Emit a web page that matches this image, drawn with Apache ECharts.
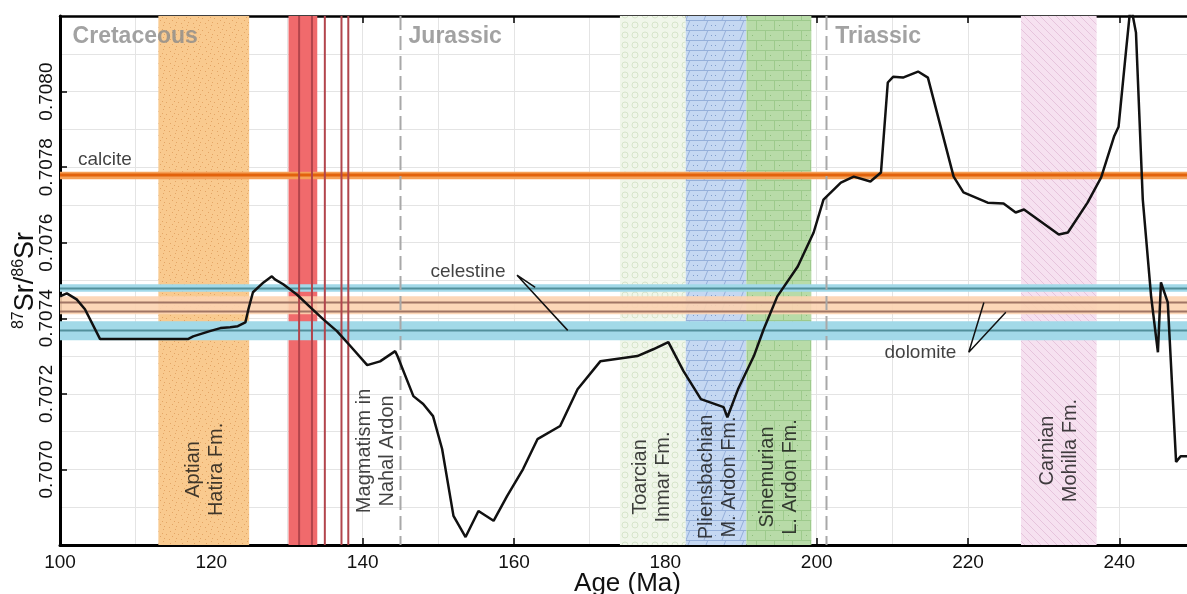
<!DOCTYPE html>
<html>
<head>
<meta charset="utf-8">
<title>87Sr/86Sr versus age</title>
<script src="https://cdn.jsdelivr.net/npm/echarts@6/dist/echarts.min.js"></script>
<style>
  html, body { margin: 0; padding: 0; background: #fff; }
  #chart { width: 1187px; height: 594px; }
</style>
</head>
<body>
<div id="chart"></div>
<script>
// seawater curve: age (Ma) and 87Sr/86Sr
var ages = [100.0, 100.9, 102.2, 103.3, 105.3, 116.9, 117.6, 119.8, 121.2, 122.5, 123.5, 124.5, 124.9, 125.5,
  126.9, 128.0, 128.4, 129.5, 131.3, 133.1, 134.8, 136.6, 138.4, 140.6, 142.3, 144.3, 144.6, 146.7, 148.0,
  149.3, 150.5, 152.0, 153.6, 155.3, 157.3, 159.1, 161.2, 163.1, 166.1, 168.4, 171.4, 176.3, 178.4, 180.4,
  182.4, 184.7, 187.7, 188.2, 189.6, 191.7, 193.0, 194.8, 197.5, 199.6, 200.9, 203.2, 204.9, 207.1, 208.5,
  209.4, 210.1, 211.4, 213.4, 214.7, 218.1, 219.4, 222.6, 224.7, 226.3, 227.4, 232.0, 233.2, 235.8, 237.6,
  239.3, 239.9, 240.9, 241.5, 242.2, 243.1, 244.2, 245.1, 245.5, 246.4, 247.5, 248.1, 249.0];
var ratios = [0.707458, 0.707466, 0.707450, 0.707424, 0.707345, 0.707345, 0.707352, 0.707366, 0.707374, 0.707376,
  0.707379, 0.707389, 0.707424, 0.707469, 0.707495, 0.707511, 0.707503, 0.707490, 0.707463, 0.707429, 0.707397,
  0.707366, 0.707326, 0.707276, 0.707286, 0.707313, 0.707300, 0.707194, 0.707173, 0.707141, 0.707054, 0.706877,
  0.706821, 0.706890, 0.706864, 0.706930, 0.707001, 0.707080, 0.707115, 0.707212, 0.707286, 0.707300, 0.707318,
  0.707337, 0.707260, 0.707186, 0.707165, 0.707138, 0.707212, 0.707300, 0.707371, 0.707458, 0.707537, 0.707627,
  0.707714, 0.707759, 0.707775, 0.707762, 0.707786, 0.708024, 0.708039, 0.708037, 0.708053, 0.708037, 0.707775,
  0.707733, 0.707706, 0.707704, 0.707680, 0.707688, 0.707622, 0.707627, 0.707706, 0.707773, 0.707881, 0.707907,
  0.708111, 0.708230, 0.708156, 0.707714, 0.707458, 0.707310, 0.707495, 0.707442, 0.707020, 0.707035, 0.707035];

// formations (vertical bands)
var stageNames = ['Aptian\nHatira Fm.', 'Toarcian\nInmar Fm.', 'Pliensbachian\nM. Ardon Fm.', 'Sinemurian\nL. Ardon Fm.', 'Carnian\nMohilla Fm.'];
var stageFrom = [113.0, 174.0, 182.7, 190.7, 227.0];
var stageTo = [125.0, 182.7, 190.7, 199.3, 237.0];
var stageLabelX = [119.2, 178.3, 186.9, 195.0, 232.0];
var stageLabelY = [0.70700, 0.70698, 0.70698, 0.70698, 0.70705];

// magmatism in Nahal Ardon
var magmaBand = [130.2, 134.0];
var magmaLines = [131.6, 133.3, 135.0, 137.2, 138.1];
var magmaLabel = ['Magmatism in\nNahal Ardon', 141.7, 0.707049];

// periods
var periodNames = ['Cretaceous', 'Jurassic', 'Triassic'];
var periodX = [101.6, 146.0, 202.4];
var periodY = 0.708145;
var boundaries = [145.0, 201.3];

// mineral ranges [low, high] and centre lines
var calciteRanges = [[0.707768, 0.707788]];
var calciteLines = [0.707779];
var celestineRanges = [[0.707470, 0.707490], [0.707342, 0.707392]];
var celestineLines = [0.707479, 0.707368];
var dolomiteRanges = [[0.707411, 0.707458]];
var dolomiteLines = [0.707442, 0.707418];

// mineral labels and their pointers
var mineralNames = ['calcite', 'celestine', 'dolomite'];
var mineralX = [102.3, 148.9, 208.9];
var mineralY = [0.70782, 0.707522, 0.70731];
var celestinePointer = [[162.8, 0.707482], [160.4, 0.707514], [167.1, 0.707368]];
var dolomitePointer = [[222.1, 0.707442], [220.1, 0.707310], [225.0, 0.707416]];

var FONT = '"Liberation Sans", Arial, sans-serif';

function pattern(w, h, bg, draw) {
  var c = document.createElement('canvas');
  c.width = w; c.height = h;
  var ctx = c.getContext('2d');
  ctx.fillStyle = bg;
  ctx.fillRect(0, 0, w, h);
  draw(ctx);
  return { image: c, repeat: 'repeat' };
}

var fills = [
  // Aptian: sandy dots
  pattern(12, 12, '#f9ca8f', function (ctx) {
    ctx.fillStyle = '#e3a565';
    [[2, 3], [7, 1], [10, 6], [4, 8], [8, 10], [1, 11], [6, 5]].forEach(function (p) {
      ctx.fillRect(p[0], p[1], 1, 1);
    });
  }),
  // Toarcian: open circles
  pattern(10, 10, '#f0f6ea', function (ctx) {
    ctx.strokeStyle = '#d6e5ca';
    ctx.lineWidth = 1;
    ctx.beginPath();
    ctx.arc(5, 5, 3, 0, Math.PI * 2);
    ctx.stroke();
  }),
  // Pliensbachian: slanted bricks
  pattern(18, 10, '#c5d8f2', function (ctx) {
    ctx.strokeStyle = '#95b0da';
    ctx.lineWidth = 1;
    ctx.beginPath();
    ctx.moveTo(0, 0.5); ctx.lineTo(18, 0.5);
    ctx.moveTo(2, 10); ctx.lineTo(6, 0);
    ctx.stroke();
    ctx.fillStyle = '#7f9ccb';
    ctx.fillRect(9, 5, 1, 1);
    ctx.fillRect(13, 5, 1, 1);
  }),
  // Sinemurian: bricks
  pattern(18, 20, '#b8dba8', function (ctx) {
    ctx.strokeStyle = '#9dca8c';
    ctx.lineWidth = 1;
    ctx.beginPath();
    ctx.moveTo(0, 0.5); ctx.lineTo(18, 0.5);
    ctx.moveTo(0, 10.5); ctx.lineTo(18, 10.5);
    ctx.moveTo(0.5, 0); ctx.lineTo(0.5, 10);
    ctx.moveTo(9.5, 10); ctx.lineTo(9.5, 20);
    ctx.stroke();
    ctx.fillStyle = '#8dbd7b';
    ctx.fillRect(5, 5, 1, 1);
    ctx.fillRect(14, 15, 1, 1);
  }),
  // Carnian: diagonal hatch
  pattern(8, 8, '#f6e1f0', function (ctx) {
    ctx.strokeStyle = '#e6c4dc';
    ctx.lineWidth = 1;
    ctx.beginPath();
    ctx.moveTo(-1, -1); ctx.lineTo(9, 9);
    ctx.moveTo(-1, 7); ctx.lineTo(1, 9);
    ctx.moveTo(7, -1); ctx.lineTo(9, 1);
    ctx.stroke();
  })
];

// vertical band over the full plot height
function vBandSeries(from, to, fillFor, z) {
  return {
    type: 'custom', z: z, silent: true, clip: true,
    data: from.map(function (f, i) { return [f, to[i], i]; }),
    renderItem: function (params, api) {
      var cs = params.coordSys;
      var x0 = api.coord([api.value(0), 0.7075])[0];
      var x1 = api.coord([api.value(1), 0.7075])[0];
      return { type: 'rect', shape: { x: x0, y: cs.y, width: x1 - x0, height: cs.height },
        style: { fill: fillFor(api.value(2)) } };
    }
  };
}
// horizontal band over the full plot width
function hBandSeries(ranges, color, opacity, z) {
  return {
    type: 'custom', z: z, silent: true, clip: true,
    data: ranges.map(function (r) { return [150, r[0], r[1]]; }),
    renderItem: function (params, api) {
      var cs = params.coordSys;
      var y0 = api.coord([150, api.value(2)])[1];
      var y1 = api.coord([150, api.value(1)])[1];
      return { type: 'rect', shape: { x: cs.x, y: y0, width: cs.width, height: y1 - y0 },
        style: { fill: color, opacity: opacity } };
    }
  };
}
function hLineSeries(vals, color, width, z) {
  return {
    type: 'custom', z: z, silent: true, clip: true,
    data: vals.map(function (v) { return [150, v]; }),
    renderItem: function (params, api) {
      var cs = params.coordSys;
      var y = api.coord([150, api.value(1)])[1];
      return { type: 'line', shape: { x1: cs.x, y1: y, x2: cs.x + cs.width, y2: y },
        style: { stroke: color, lineWidth: width } };
    }
  };
}
function vLineSeries(vals, color, width, dash, z) {
  return {
    type: 'custom', z: z, silent: true, clip: true,
    data: vals.map(function (v) { return [v, 0.7075]; }),
    renderItem: function (params, api) {
      var cs = params.coordSys;
      var x = api.coord([api.value(0), 0.7075])[0];
      return { type: 'line', shape: { x1: x, y1: cs.y, x2: x, y2: cs.y + cs.height },
        style: { stroke: color, lineWidth: width, lineDash: dash } };
    }
  };
}

var labelData = stageNames.map(function (n, i) {
  return { name: n, value: [stageLabelX[i], stageLabelY[i]] };
});
labelData.push({ name: magmaLabel[0], value: [magmaLabel[1], magmaLabel[2]] });

var chart = echarts.init(document.getElementById('chart'));
var option = {
  animation: false,
  textStyle: { fontFamily: FONT },
  grid: { left: 60, right: -8, top: 16, bottom: 49, outerBoundsMode: 'none' },
  xAxis: [{
    type: 'value', min: 100, max: 250, interval: 20, position: 'bottom',
    name: 'Age (Ma)', nameLocation: 'middle', nameGap: 26, nameMoveOverlap: false,
    nameTextStyle: { fontSize: 26, color: '#111', fontFamily: FONT },
    axisLine: { show: true, onZero: false, lineStyle: { color: '#000', width: 3 } },
    axisTick: { inside: true, length: 7, lineStyle: { color: '#000', width: 1.5 } },
    axisLabel: { fontSize: 19, color: '#111', margin: 8, showMaxLabel: false, fontFamily: FONT },
    splitLine: { show: true, lineStyle: { color: '#e4e4e4', width: 1 } },
    minorTick: { show: false, splitNumber: 2 },
    minorSplitLine: { show: true, lineStyle: { color: '#e4e4e4', width: 1 } }
  }, {
    type: 'value', min: 100, max: 250, interval: 20, position: 'top',
    axisLine: { show: true, onZero: false, lineStyle: { color: '#000', width: 2.5 } },
    axisTick: { inside: true, length: 7, lineStyle: { color: '#000', width: 1.5 } },
    axisLabel: { show: false }, splitLine: { show: false }
  }],
  yAxis: [{
    type: 'value', min: 0.7068, max: 0.7082, interval: 0.0002,
    name: '{s|87}{b|Sr/}{s|86}{b|Sr}', nameLocation: 'middle', nameGap: 19, nameMoveOverlap: false,
    nameTextStyle: {
      color: '#111',
      rich: {
        s: { fontSize: 16, lineHeight: 16, verticalAlign: 'top', fontFamily: FONT, color: '#111' },
        b: { fontSize: 27, lineHeight: 30, fontFamily: FONT, color: '#111' }
      }
    },
    axisLine: { show: true, onZero: false, lineStyle: { color: '#000', width: 3 } },
    axisTick: { inside: true, length: 7, lineStyle: { color: '#000', width: 1.5 } },
    axisLabel: {
      fontSize: 19, color: '#111', rotate: 90, margin: 4, fontFamily: FONT,
      showMinLabel: false, showMaxLabel: false,
      formatter: function (v) { return v.toFixed(4); }
    },
    splitLine: { show: true, lineStyle: { color: '#e4e4e4', width: 1 } },
    minorTick: { show: false, splitNumber: 2 },
    minorSplitLine: { show: true, lineStyle: { color: '#e4e4e4', width: 1 } }
  }],
  series: [
    vBandSeries(stageFrom, stageTo, function (i) { return fills[i]; }, 1),
    vBandSeries([magmaBand[0]], [magmaBand[1]], function () { return '#f06a6c'; }, 1),
    hBandSeries(celestineRanges, '#a2d9e8', 1, 2),
    hBandSeries(dolomiteRanges, '#fcd3b0', 0.9, 2),
    hBandSeries(calciteRanges, '#f5a057', 1, 2),
    hLineSeries(celestineLines, '#52909b', 2, 3),
    hLineSeries(dolomiteLines, '#a07565', 2, 3),
    hLineSeries(calciteLines, '#e2620c', 3, 3),
    vLineSeries(magmaLines, '#b2454c', 2, null, 4),
    vLineSeries(boundaries, '#a8a8a8', 2, [14, 6], 4),
    {
      type: 'line', z: 5, silent: true, symbol: 'none',
      data: ages.map(function (a, i) { return [a, ratios[i]]; }),
      lineStyle: { color: '#111', width: 2.5 }
    },
    {
      type: 'line', z: 5, silent: true, symbol: 'none', data: celestinePointer,
      lineStyle: { color: '#111', width: 1.5 }
    },
    {
      type: 'line', z: 5, silent: true, symbol: 'none', data: dolomitePointer,
      lineStyle: { color: '#111', width: 1.5 }
    },
    {
      // formation labels
      type: 'scatter', z: 6, silent: true, symbolSize: 1,
      itemStyle: { color: 'rgba(0,0,0,0)' },
      data: labelData,
      label: {
        show: true, position: 'inside', rotate: 90, formatter: '{b}',
        fontSize: 20, lineHeight: 23, color: '#111', fontFamily: FONT, align: 'center'
      }
    },
    {
      // period names
      type: 'scatter', z: 6, silent: true, symbolSize: 1,
      itemStyle: { color: 'rgba(0,0,0,0)' },
      data: periodNames.map(function (n, i) { return { name: n, value: [periodX[i], periodY] }; }),
      label: {
        show: true, position: 'right', distance: 0, formatter: '{b}',
        fontSize: 23, fontWeight: 'bold', color: '#8b8b8b', fontFamily: FONT
      }
    },
    {
      // mineral names
      type: 'scatter', z: 6, silent: true, symbolSize: 1,
      itemStyle: { color: 'rgba(0,0,0,0)' },
      data: mineralNames.map(function (n, i) { return { name: n, value: [mineralX[i], mineralY[i]] }; }),
      label: {
        show: true, position: 'right', distance: 0, formatter: '{b}',
        fontSize: 19, color: '#111', fontFamily: FONT
      }
    }
  ]
};
chart.setOption(option);
</script>
</body>
</html>
